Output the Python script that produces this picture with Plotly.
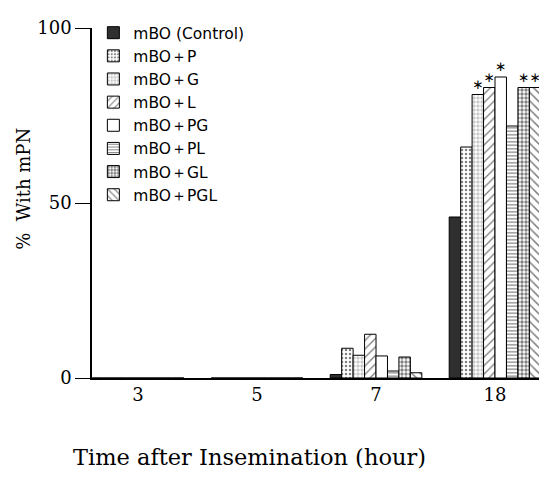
import plotly.graph_objects as go

hours = ["3", "5", "7", "18"]
names = ["mBO (Control)", "mBO＋P", "mBO＋G", "mBO＋L",
         "mBO＋PG", "mBO＋PL", "mBO＋GL", "mBO＋PGL"]

control = [0, 0, 1, 46]
mbo_p = [0, 0, 8.5, 66]
mbo_g = [0, 0, 6.5, 81]
mbo_l = [0, 0, 12.5, 83]
mbo_pg = [0, 0, 6.3, 86]
mbo_pl = [0, 0, 2, 72]
mbo_gl = [0, 0, 6, 83]
mbo_pgl = [0, 0, 1.5, 83]

star_none = ["", "", "", ""]
star_18 = ["", "", "", "∗"]

series = [control, mbo_p, mbo_g, mbo_l, mbo_pg, mbo_pl, mbo_gl, mbo_pgl]
stars = [star_none, star_none, star_18, star_18, star_18, star_none, star_18, star_18]

styles = [
    dict(color="#2f2f2f", pattern=dict(shape="")),
    dict(color="white", pattern=dict(shape=".", size=4, solidity=0.3, fgcolor="black", bgcolor="white")),
    dict(color="white", pattern=dict(shape="+", size=4, solidity=0.22, fgcolor="black", bgcolor="white")),
    dict(color="white", pattern=dict(shape="/", size=6, solidity=0.22, fgcolor="black", bgcolor="white")),
    dict(color="white", pattern=dict(shape="")),
    dict(color="white", pattern=dict(shape="-", size=3.5, solidity=0.35, fgcolor="black", bgcolor="white")),
    dict(color="white", pattern=dict(shape=".", size=4, solidity=0.55, fgcolor="black", bgcolor="white")),
    dict(color="white", pattern=dict(shape="\\", size=6, solidity=0.25, fgcolor="black", bgcolor="white")),
]

fig = go.Figure()
for name, vals, st, txt in zip(names, series, styles, stars):
    fig.add_trace(go.Bar(
        x=hours, y=vals, name=name,
        marker=dict(color=st["color"], pattern=st["pattern"],
                    line=dict(color="black", width=1)),
        text=txt, textposition="outside", constraintext="none",
        textfont=dict(family="DejaVu Sans", size=13.5, color="black"),
        cliponaxis=True,
    ))

serif = "DejaVu Serif"
# page body has an 8px margin, so the figure is sized to fit inside the window
fig.update_layout(
    width=539, height=475,
    margin=dict(l=84, r=0, t=20, b=105, autoexpand=False),
    paper_bgcolor="white", plot_bgcolor="white",
    barmode="group", bargap=0.23, bargroupgap=0,
    showlegend=True,
    legend=dict(x=0.003, y=1.034, xanchor="left", yanchor="top",
                bgcolor="rgba(0,0,0,0)",
                font=dict(family="DejaVu Sans", size=15.5, color="black"),
                tracegroupgap=0),
    xaxis=dict(type="category", range=[-0.387, 3.437], showline=True,
               linecolor="black", linewidth=1.5, ticks="", showgrid=False,
               tickfont=dict(family=serif, size=18, color="black"),
               ticklabelstandoff=0, automargin=False),
    yaxis=dict(range=[0, 100], tickvals=[0, 50, 100], showline=True,
               linecolor="black", linewidth=1.5, ticks="outside", ticklen=15,
               tickcolor="black", showgrid=False, zeroline=False,
               tickfont=dict(family=serif, size=18, color="black"),
               automargin=False),
    annotations=[
        dict(text="Time after Insemination (hour)", xref="paper", yref="paper",
             x=0.347, y=-0.227, xanchor="center", yanchor="middle", showarrow=False,
             font=dict(family=serif, size=22.5, color="black")),
        dict(text="%  With mPN", xref="paper", yref="paper",
             x=-0.152, y=0.54, xanchor="center", yanchor="middle", showarrow=False,
             textangle=-90, font=dict(family=serif, size=18, color="black")),
    ],
)

fig.write_html("out.html")
